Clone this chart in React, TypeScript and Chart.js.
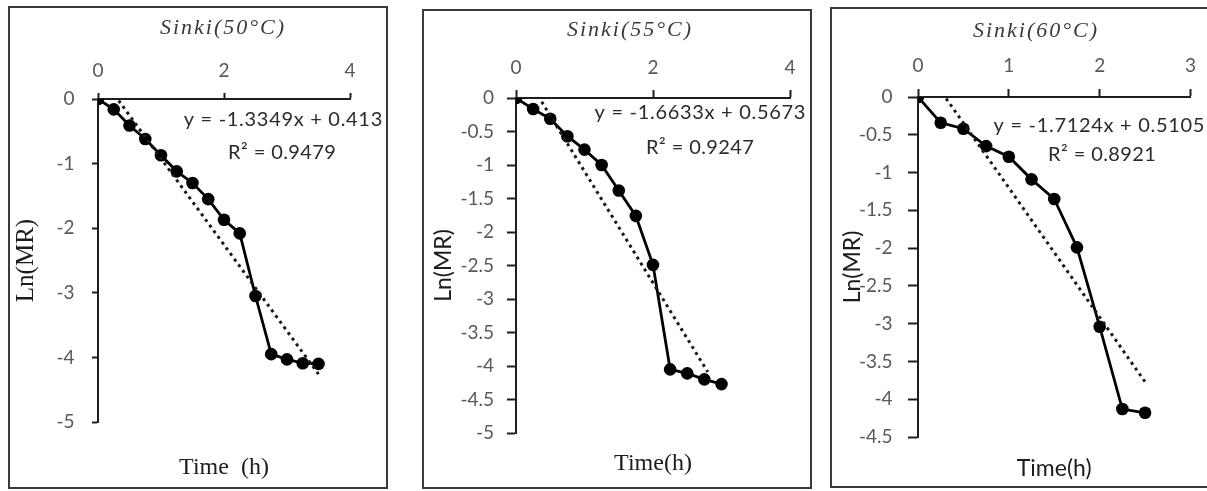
import { useEffect, useRef } from "react";
import { Chart, registerables } from "chart.js";

Chart.register(...registerables);

// Drying time (h) and ln(moisture ratio) at each temperature
const time50 = [0, 0.25, 0.5, 0.75, 1, 1.25, 1.5, 1.75, 2, 2.25, 2.5, 2.75, 3, 3.25, 3.5];
const lnMR50 = [0, -0.16, -0.41, -0.62, -0.87, -1.12, -1.3, -1.55, -1.87, -2.08, -3.05, -3.95, -4.03, -4.09, -4.1];

const time55 = [0, 0.25, 0.5, 0.75, 1, 1.25, 1.5, 1.75, 2, 2.25, 2.5, 2.75, 3];
const lnMR55 = [0, -0.165, -0.31, -0.57, -0.77, -1.0, -1.38, -1.76, -2.49, -4.05, -4.11, -4.2, -4.27];

const time60 = [0, 0.25, 0.5, 0.75, 1, 1.25, 1.5, 1.75, 2, 2.25, 2.5];
const lnMR60 = [0, -0.34, -0.42, -0.65, -0.79, -1.09, -1.35, -1.99, -3.04, -4.13, -4.18];

// Linear fits: [slope, intercept], R², and the x span of the fitted line
const fit50 = [-1.3349, 0.413];
const fit55 = [-1.6633, 0.5673];
const fit60 = [-1.7124, 0.5105];
const r2_50 = 0.9479;
const r2_55 = 0.9247;
const r2_60 = 0.8921;
const span50 = [0, 3.5];
const span55 = [0, 2.8];
const span60 = [0, 2.5];

// Axis tick values
const xTicks50 = [0, 2, 4];
const yTicks50 = [0, -1, -2, -3, -4, -5];
const xTicks55 = [0, 2, 4];
const yTicks55 = [0, -0.5, -1, -1.5, -2, -2.5, -3, -3.5, -4, -4.5, -5];
const xTicks60 = [0, 1, 2, 3];
const yTicks60 = [0, -0.5, -1, -1.5, -2, -2.5, -3, -3.5, -4, -4.5];

const titles = ["Sinki(50°C)", "Sinki(55°C)", "Sinki(60°C)"];
const yTitle = "Ln(MR)";
const xTitles = ["Time  (h)", "Time(h)", "Time(h)"];

const SERIF = '"Liberation Serif", "Times New Roman", serif';
const SANS = 'Lato, "Noto Sans", sans-serif';
const TICK_GRAY = "#595959";
const AXIS = "#1e1e1e";

type Box = { left: number; top: number; width: number; height: number };
type Area = { left: number; top: number; right: number; bottom: number };

interface PanelSpec {
  box: Box;
  area: Area;
  times: number[];
  values: number[];
  fit: number[];
  r2: number;
  span: number[];
  xTicks: number[];
  yTicks: number[];
  title: string;
  titlePos: [number, number];
  xTitle: string;
  xTitleFamily: string;
  xTitleSize: number;
  xTitleBottomPad: number;
  yTitleFamily: string;
  yTitleSize: number;
  yTitleLeftPad: number;
  xTickLen: number;
  xTickPad: number;
  yTickLen: number;
  yTickPad: number;
  eqPos: [number, number];
  r2Pos: [number, number];
}

const BORDER = 2;

const panels: PanelSpec[] = [
  {
    box: { left: 8, top: 6, width: 380, height: 483 },
    area: { left: 88, top: 91, right: 340, bottom: 414 },
    times: time50,
    values: lnMR50,
    fit: fit50,
    r2: r2_50,
    span: span50,
    xTicks: xTicks50,
    yTicks: yTicks50,
    title: titles[0],
    titlePos: [212, 20],
    xTitle: xTitles[0],
    xTitleFamily: SERIF,
    xTitleSize: 24,
    xTitleBottomPad: 4.6,
    yTitleFamily: SERIF,
    yTitleSize: 25,
    yTitleLeftPad: 1.5,
    xTickLen: 6,
    xTickPad: 11,
    yTickLen: 6,
    yTickPad: 17.5,
    eqPos: [273, 112],
    r2Pos: [272, 145],
  },
  {
    box: { left: 422, top: 9, width: 390, height: 480 },
    area: { left: 92, top: 87, right: 366, bottom: 422 },
    times: time55,
    values: lnMR55,
    fit: fit55,
    r2: r2_55,
    span: span55,
    xTicks: xTicks55,
    yTicks: yTicks55,
    title: titles[1],
    titlePos: [205, 19],
    xTitle: xTitles[1],
    xTitleFamily: SERIF,
    xTitleSize: 24,
    xTitleBottomPad: 9.3,
    yTitleFamily: SANS,
    yTitleSize: 23,
    yTitleLeftPad: 5.7,
    xTickLen: 8,
    xTickPad: 11,
    yTickLen: 9,
    yTickPad: 13,
    eqPos: [276, 102],
    r2Pos: [276, 137],
  },
  {
    box: { left: 830, top: 7, width: 380, height: 481 },
    area: { left: 86, top: 88, right: 360, bottom: 428 },
    times: time60,
    values: lnMR60,
    fit: fit60,
    r2: r2_60,
    span: span60,
    xTicks: xTicks60,
    yTicks: yTicks60,
    title: titles[2],
    titlePos: [203, 22.5],
    xTitle: xTitles[2],
    xTitleFamily: SANS,
    xTitleSize: 23,
    xTitleBottomPad: 4,
    yTitleFamily: SANS,
    yTitleSize: 23,
    yTitleLeftPad: 6.7,
    xTickLen: 8,
    xTickPad: 12,
    yTickLen: 10,
    yTickPad: 15.5,
    eqPos: [267, 117],
    r2Pos: [270, 146],
  },
];

// Draws the chart title and the regression equation as canvas text
const panelText = {
  id: "panelText",
  afterDraw(chart: any, _args: any, opts: any) {
    const ctx = chart.ctx as CanvasRenderingContext2D;
    ctx.save();
    for (const t of opts.items || []) {
      ctx.font = t.font;
      ctx.fillStyle = t.color;
      ctx.textAlign = "center";
      ctx.textBaseline = "middle";
      (ctx as any).letterSpacing = `${t.spacing}px`;
      ctx.fillText(t.text, t.x + t.spacing / 2, t.y);
    }
    ctx.restore();
  },
};

function buildConfig(p: PanelSpec, w: number, h: number): any {
  const [m, b] = p.fit;
  const points = p.times.map((t, i) => ({ x: t, y: p.values[i] }));
  const trend = p.span.map((x) => ({ x, y: m * x + b }));
  const xMin = p.xTicks[0];
  const xMax = p.xTicks[p.xTicks.length - 1];
  const yMax = p.yTicks[0];
  const yMin = p.yTicks[p.yTicks.length - 1];
  const topPad = 38;
  const tickFont = { family: SANS, size: 19 };
  const plain = (v: number | string) => String(v);

  return {
    type: "scatter",
    data: {
      datasets: [
        {
          label: "Ln(MR)",
          data: points,
          showLine: true,
          borderColor: "#000",
          borderWidth: 2.8,
          pointRadius: 6.3,
          pointBackgroundColor: "#000",
          pointBorderColor: "#000",
          pointBorderWidth: 0,
          tension: 0,
          order: 1,
          xAxisID: "x",
          yAxisID: "y",
        },
        {
          label: "Linear fit",
          data: trend,
          showLine: true,
          borderColor: "#1a1a1a",
          borderWidth: 3,
          borderDash: [3, 4],
          pointRadius: 0,
          order: 0,
          xAxisID: "x",
          yAxisID: "y",
        },
      ],
    },
    options: {
      responsive: false,
      animation: false,
      events: [],
      layout: {
        padding: { top: topPad, left: 0, right: w - p.area.right, bottom: 0 },
      },
      plugins: {
        legend: { display: false },
        tooltip: { enabled: false },
        title: { display: false },
        panelText: {
          items: [
            {
              text: p.title,
              x: p.titlePos[0],
              y: p.titlePos[1],
              font: `italic 22px ${SERIF}`,
              color: "#3a3a3a",
              spacing: 2,
            },
            {
              text: `y = ${m}x + ${b}`,
              x: p.eqPos[0],
              y: p.eqPos[1],
              font: `20px ${SANS}`,
              color: "#2b2b2b",
              spacing: 0.7,
            },
            {
              text: `R² = ${p.r2}`,
              x: p.r2Pos[0],
              y: p.r2Pos[1],
              font: `20px ${SANS}`,
              color: "#2b2b2b",
              spacing: 0.4,
            },
          ],
        },
      },
      scales: {
        x: {
          type: "linear",
          position: "top",
          min: xMin,
          max: xMax,
          afterBuildTicks: (s: any) => {
            s.ticks = p.xTicks.map((v) => ({ value: v }));
          },
          afterFit: (s: any) => {
            s.height = p.area.top - topPad;
          },
          grid: {
            drawOnChartArea: false,
            drawTicks: true,
            tickLength: p.xTickLen,
            color: AXIS,
            tickColor: AXIS,
            tickWidth: 2,
          },
          border: { display: true, color: AXIS, width: 2 },
          ticks: {
            padding: p.xTickPad,
            color: TICK_GRAY,
            font: tickFont,
            maxRotation: 0,
            callback: plain,
          },
        },
        xb: {
          type: "linear",
          position: "bottom",
          min: xMin,
          max: xMax,
          display: true,
          grid: { display: false },
          border: { display: false },
          ticks: { display: false },
          afterFit: (s: any) => {
            s.height = h - p.area.bottom;
          },
          title: {
            display: true,
            text: p.xTitle,
            color: "#1c1c1c",
            font: { family: p.xTitleFamily, size: p.xTitleSize },
            padding: { top: 0, bottom: p.xTitleBottomPad },
          },
        },
        y: {
          type: "linear",
          position: "left",
          min: yMin,
          max: yMax,
          afterBuildTicks: (s: any) => {
            s.ticks = p.yTicks.map((v) => ({ value: v }));
          },
          afterFit: (s: any) => {
            s.width = p.area.left;
          },
          grid: {
            drawOnChartArea: false,
            drawTicks: true,
            tickLength: p.yTickLen,
            color: AXIS,
            tickColor: AXIS,
            tickWidth: 2,
          },
          border: { display: true, color: AXIS, width: 2 },
          ticks: { padding: p.yTickPad, color: TICK_GRAY, font: tickFont, callback: plain },
          title: {
            display: true,
            text: yTitle,
            color: "#1c1c1c",
            font: { family: p.yTitleFamily, size: p.yTitleSize },
            padding: { top: p.yTitleLeftPad, bottom: 0 },
          },
        },
      },
    },
    plugins: [panelText],
  };
}

function Panel({ spec }: { spec: PanelSpec }) {
  const ref = useRef<HTMLCanvasElement>(null);
  const w = spec.box.width - 2 * BORDER;
  const h = spec.box.height - 2 * BORDER;

  useEffect(() => {
    if (!ref.current) return;
    const chart = new Chart(ref.current, buildConfig(spec, w, h));
    return () => chart.destroy();
  }, [spec, w, h]);

  return (
    <div
      style={{
        position: "absolute",
        left: spec.box.left,
        top: spec.box.top,
        width: spec.box.width,
        height: spec.box.height,
        boxSizing: "border-box",
        border: `${BORDER}px solid #3a3a3a`,
        background: "#fff",
      }}
    >
      <canvas ref={ref} width={w} height={h} style={{ display: "block", width: w, height: h }} />
    </div>
  );
}

export default function App() {
  return (
    <div
      style={{
        position: "fixed",
        left: 0,
        top: 0,
        width: 1207,
        height: 491,
        overflow: "hidden",
        background: "#fff",
      }}
    >
      {panels.map((p, i) => (
        <Panel key={i} spec={p} />
      ))}
    </div>
  );
}
